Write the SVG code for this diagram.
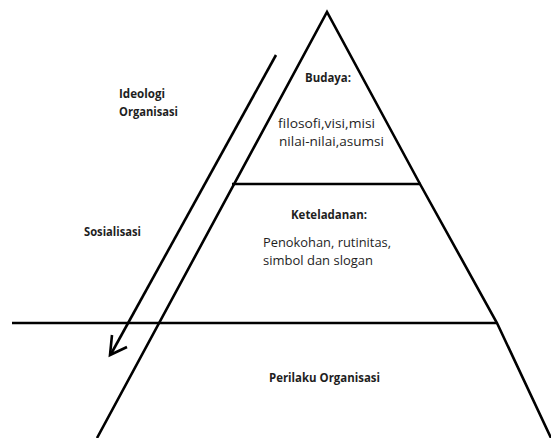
<svg xmlns="http://www.w3.org/2000/svg" width="551" height="438" viewBox="0 0 551 438">
<style>
.ln{stroke:#000;stroke-width:2.6;fill:none;stroke-linecap:butt;stroke-linejoin:miter}
.t{font-family:"Open Sans","Liberation Sans",sans-serif;font-size:13px;fill:#1e1e1e}
.b{font-weight:bold}
</style>
<rect width="551" height="438" fill="#fff"/>
<g id="pyramid">
<path class="ln" d="M97,438 L327,12 L420,184 L497,323 L551,438"/>
<line class="ln" x1="232" y1="184" x2="421" y2="184" stroke-width="3"/>
<line class="ln" x1="12" y1="323" x2="497" y2="323" stroke-width="3"/>
</g>
<g id="budaya">
<text class="t b" x="305" y="82" textLength="46" lengthAdjust="spacingAndGlyphs">Budaya:</text>
<text class="t" x="278" y="128" textLength="97" lengthAdjust="spacingAndGlyphs">filosofi,visi,misi</text>
<text class="t" x="279" y="146" textLength="105" lengthAdjust="spacingAndGlyphs">nilai-nilai,asumsi</text>
</g>
<g id="keteladanan">
<text class="t b" x="291" y="219" textLength="76" lengthAdjust="spacingAndGlyphs">Keteladanan:</text>
<text class="t" x="263" y="247" textLength="128" lengthAdjust="spacingAndGlyphs">Penokohan, rutinitas,</text>
<text class="t" x="263" y="265" textLength="110" lengthAdjust="spacingAndGlyphs">simbol dan slogan</text>
</g>
<g id="perilaku">
<text class="t b" x="269" y="382" textLength="111" lengthAdjust="spacingAndGlyphs">Perilaku Organisasi</text>
</g>
<g id="ideologi">
<text class="t b" x="119" y="98" textLength="46" lengthAdjust="spacingAndGlyphs">Ideologi</text>
<text class="t b" x="119" y="116" textLength="59" lengthAdjust="spacingAndGlyphs">Organisasi</text>
</g>
<g id="sosialisasi">
<text class="t b" x="84" y="236" textLength="57" lengthAdjust="spacingAndGlyphs">Sosialisasi</text>
</g>
<g id="connectors">
<line class="ln" x1="276" y1="55" x2="111" y2="354"/>
<path class="ln" d="M112,335 L110,355 L127,347"/>
</g>
</svg>
